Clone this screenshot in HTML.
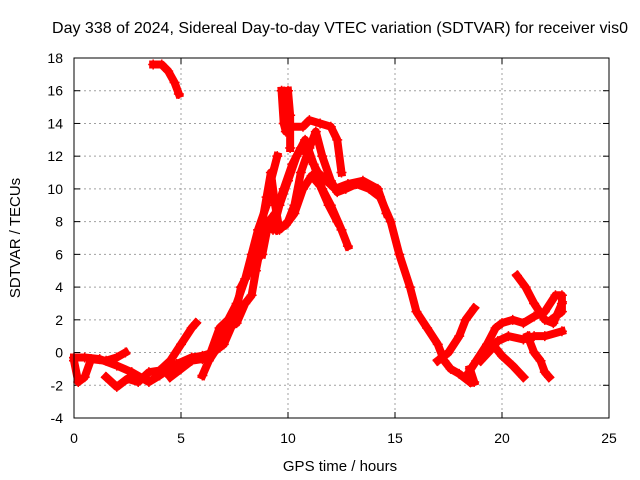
<!DOCTYPE html>
<html><head><meta charset="utf-8"><style>
body{margin:0;background:#fff;}
svg{display:block;font-family:"Liberation Sans",sans-serif;}
</style></head><body>
<svg width="640" height="480" id="chart">
<rect width="640" height="480" fill="#fff"/>
<text x="340" y="33" font-size="16" text-anchor="middle">Day 338 of 2024, Sidereal Day-to-day VTEC variation (SDTVAR) for receiver vis0</text>
<text x="340" y="471" font-size="15" text-anchor="middle">GPS time / hours</text>
<text x="20" y="238" font-size="15" text-anchor="middle" transform="rotate(-90 20 238)">SDTVAR / TECUs</text>
<g id="grid"></g>
<g id="ticks"></g>
<g id="series"></g>
<rect x="74" y="58" width="535" height="360" fill="none" stroke="#000" stroke-width="1"/>
</svg>
<script>
const xTicks=[0,5,10,15,20,25];
const yTicks=[-4,-2,0,2,4,6,8,10,12,14,16,18];
const tracks=[
[[0,-0.5],[0.2,-1.8],[0.5,-1.5],[0.8,-0.4],[1.5,-0.5],[2.0,-0.3],[2.4,0]],
[[0,-0.3],[0.5,-0.3],[1.2,-0.4],[2,-0.8],[2.7,-1.2],[3.5,-1.8],[4.0,-1.4],[4.8,-0.7],[5.5,-0.3],[6,-0.2],[6.5,0],[7,0.5],[7.5,2],[7.8,4],[8.2,5],[8.5,6],[8.8,8],[9.0,9.5],[9.2,11],[9.4,9],[9.6,7.5],[10,8],[10.3,9],[10.6,11],[11,12.5],[11.3,13.5],[11.6,12],[12,10.5],[12.3,9.8],[12.7,10],[13.2,10.3],[13.8,10],[14.3,9.5],[14.8,8],[15.2,6],[15.7,4],[16.0,2.5],[16.5,1.5],[17.0,0.5],[17.3,-0.5],[17.6,-1],[18,-1.3],[18.5,-1.8]],
[[1.5,-1.5],[2,-2.1],[2.5,-1.6],[3,-1.8],[3.5,-1.2],[4,-1.1],[4.5,-0.5],[5,0.5],[5.5,1.5],[5.7,1.8]],
[[4.5,-1.5],[5,-1],[5.5,-0.5],[6,-0.4],[6.3,-0.3],[6.8,1.5],[7.2,2],[7.6,3],[8,4.5],[8.3,6],[8.6,7.5],[9,9],[9.2,10.5],[9.5,12]],
[[6,-1.4],[6.3,-0.5],[6.8,0.5],[7.2,1.5],[7.6,1.8],[8,3],[8.3,3.5],[8.5,5],[8.8,7],[9,8],[9.3,7.5],[9.6,9],[10,10.5],[10.4,12],[10.8,13],[11.2,11.5],[11.6,10],[12.0,9],[12.5,7.5],[12.8,6.5]],
[[9.7,16],[9.8,14],[9.9,13.5],[10.2,13.8],[10.7,13.8],[11,14.2],[11.5,14],[12,13.8],[12.3,13],[12.5,11]],
[[10,16],[10.1,14.5],[10.1,12.5]],
[[3.7,17.6],[4.1,17.6],[4.4,17.2],[4.7,16.5],[4.9,15.8]],
[[8.8,6],[9.1,8],[9.4,8.5],[9.8,10],[10.2,11.5],[10.6,12.5],[11,12],[11.4,11],[11.8,10.5],[12.2,10],[12.8,10.3],[13.5,10.5],[14.2,10],[14.6,8.5]],
[[9.5,7.5],[9.9,7.8],[10.3,8.5],[10.7,10],[11.1,10.8],[11.5,10.2],[11.9,9],[12.3,8]],
[[17.0,-0.5],[17.5,0],[18.0,1],[18.3,2],[18.7,2.7]],
[[18.3,-1.5],[18.8,-0.5],[19.3,0.5],[19.7,1.5],[20,1.8],[20.5,2],[21,1.8],[21.5,2.2],[22,2.5],[22.5,3.5],[22.8,3.5],[22.8,2.5],[22.3,2]],
[[19,-0.5],[19.5,0.2],[19.8,0.7],[20.3,1],[21,0.8],[21.5,1],[22,1],[22.8,1.3]],
[[20.7,4.7],[21.1,4],[21.5,3],[22,2],[22.4,1.8],[22.8,3]],
[[19.5,0.6],[20,-0.2],[20.5,-0.8],[21,-1.5]],
[[21.2,1],[21.5,0],[21.8,-0.5],[22,-1.2],[22.2,-1.5]],
[[18.5,-1],[18.7,-1.8]]
];
const NS="http://www.w3.org/2000/svg";
const X=h=>74+(h-0)*535/25;
const Y=v=>418-(v+4)*360/22;
const grid=document.getElementById('grid'),ticks=document.getElementById('ticks'),ser=document.getElementById('series');
function mk(t,a,p){const e=document.createElementNS(NS,t);for(const k in a)e.setAttribute(k,a[k]);p.appendChild(e);return e;}
xTicks.forEach(t=>{
  const x=X(t);
  if(t>0&&t<25){const g=mk('line',{x1:x,x2:x,y1:58,y2:418,stroke:'#a0a0a0','stroke-dasharray':'2,3'},grid);
  
  }
  mk('line',{x1:x,x2:x,y1:418,y2:412,stroke:'#000'},ticks);
  mk('line',{x1:x,x2:x,y1:58,y2:64,stroke:'#000'},ticks);
  const l=mk('text',{x:x,y:443,'font-size':14,'text-anchor':'middle'},ticks);l.textContent=t;
  
  
});
yTicks.forEach(t=>{
  const y=Y(t);
  if(t>-4&&t<18){const g=mk('line',{x1:74,x2:609,y1:y,y2:y,stroke:'#a0a0a0','stroke-dasharray':'2,3'},grid);
  
  }
  mk('line',{x1:74,x2:80,y1:y,y2:y,stroke:'#000'},ticks);
  mk('line',{x1:603,x2:609,y1:y,y2:y,stroke:'#000'},ticks);
  const l=mk('text',{x:63,y:y+5,'font-size':14,'text-anchor':'end'},ticks);l.textContent=t;
  
  
});
tracks.forEach(tr=>{
  const pl=mk('polyline',{points:tr.map(p=>X(p[0])+','+Y(p[1])).join(' '),fill:'none',stroke:'#ff0000','stroke-width':8,'stroke-linejoin':'round','stroke-linecap':'square'},ser);
  
  
  tr.forEach(p=>{const x=X(p[0]),y=Y(p[1]);
    const m=mk('path',{d:`M${x-5},${y}h10M${x},${y-5}v10`,stroke:'#ff0000','stroke-width':1.5},ser);
    
    });
});
</script>
</body></html>
